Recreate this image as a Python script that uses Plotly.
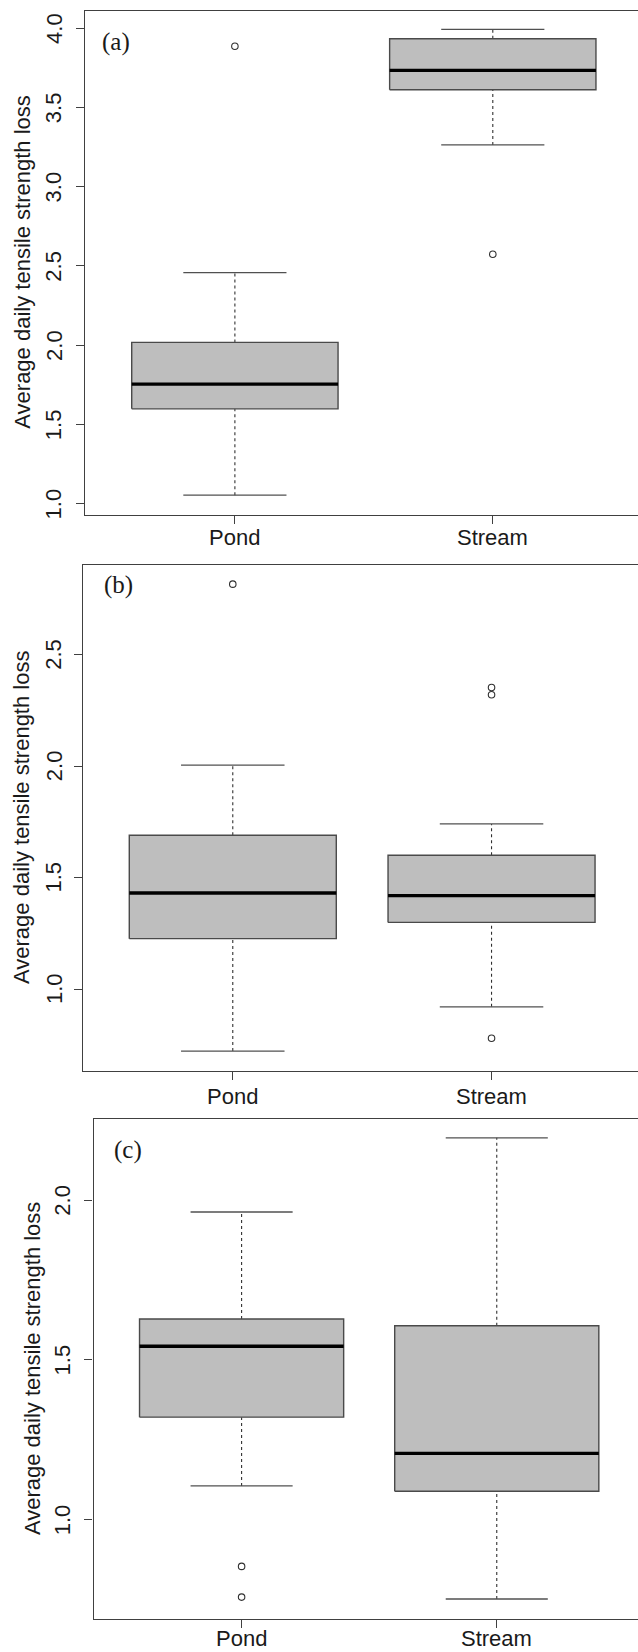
import plotly.graph_objects as go

# ---------------- data ----------------
CATEGORIES = ["Pond", "Stream"]
PANEL_LABELS = ["(a)", "(b)", "(c)"]
Y_TITLE = "Average daily tensile strength loss"

# panel (a)
A_LOWER = [1.053, 3.263]
A_Q1 = [1.598, 3.611]
A_MEDIAN = [1.754, 3.733]
A_Q3 = [2.017, 3.933]
A_UPPER = [2.457, 3.992]
A_OUTLIERS = [[3.886], [2.573]]
A_TICKS = [1.0, 1.5, 2.0, 2.5, 3.0, 3.5, 4.0]

# panel (b)
B_LOWER = [0.7215, 0.920]
B_Q1 = [1.226, 1.299]
B_MEDIAN = [1.431, 1.419]
B_Q3 = [1.690, 1.600]
B_UPPER = [2.005, 1.741]
B_OUTLIERS = [[2.817], [2.353, 2.321, 0.779]]
B_TICKS = [1.0, 1.5, 2.0, 2.5]

# panel (c)
C_LOWER = [1.106, 0.752]
C_Q1 = [1.321, 1.089]
C_MEDIAN = [1.543, 1.208]
C_Q3 = [1.628, 1.607]
C_UPPER = [1.963, 2.195]
C_OUTLIERS = [[0.854, 0.758], []]
C_TICKS = [1.0, 1.5, 2.0]

# ---------------- styling / layout constants ----------------
W, H = 638, 1652
BOX_HALF = 0.4      # R boxwex 0.8
CAP_HALF = 0.2      # R staplewex 0.5
FILL = "#bebebe"
BORDER = "#4a4a4a"
AXIS = "#404040"
TEXT = "#1a1a1a"
SANS = "Liberation Sans, Arial, sans-serif"
SERIF = "Liberation Serif, Times New Roman, serif"
FS = 22

# pixel geometry of each panel
PANELS = [
    dict(left=85.3, top=10.7, bottom=514.7, yr=[0.93, 4.11], xr=[0.42, 2.563],
         title_x=23, ytick_x=53.8, xtick_y=538, label=(116, 42)),
    dict(left=82.7, top=565.0, bottom=1071.0, yr=[0.632, 2.903], xr=[0.42, 2.566],
         title_x=21, ytick_x=54, xtick_y=1096, label=(118.5, 585)),
    dict(left=93.6, top=1118.7, bottom=1618.5, yr=[0.691, 2.255], xr=[0.42, 2.5535],
         title_x=32.5, ytick_x=62.5, xtick_y=1638.5, label=(128, 1150)),
]

DATA = [
    (A_LOWER, A_Q1, A_MEDIAN, A_Q3, A_UPPER, A_OUTLIERS, A_TICKS),
    (B_LOWER, B_Q1, B_MEDIAN, B_Q3, B_UPPER, B_OUTLIERS, B_TICKS),
    (C_LOWER, C_Q1, C_MEDIAN, C_Q3, C_UPPER, C_OUTLIERS, C_TICKS),
]

fig = go.Figure()
annotations = []

for p, (geom, (lo, q1, med, q3, hi, outs, ticks)) in enumerate(zip(PANELS, DATA)):
    sfx = "" if p == 0 else str(p + 1)
    xa, ya = "x" + sfx, "y" + sfx
    for i, cat in enumerate(CATEGORIES):
        c = i + 1
        # whiskers (dashed)
        fig.add_trace(go.Scatter(
            x=[c, c, None, c, c], y=[lo[i], q1[i], None, q3[i], hi[i]],
            mode="lines", line=dict(color="#303030", width=1.1, dash="3px,3px"),
            xaxis=xa, yaxis=ya, showlegend=False, hoverinfo="skip"))
        # staples
        fig.add_trace(go.Scatter(
            x=[c - CAP_HALF, c + CAP_HALF, None, c - CAP_HALF, c + CAP_HALF],
            y=[lo[i], lo[i], None, hi[i], hi[i]],
            mode="lines", line=dict(color="#505050", width=1.3),
            xaxis=xa, yaxis=ya, showlegend=False, hoverinfo="skip"))
        # box body
        fig.add_trace(go.Scatter(
            x=[c - BOX_HALF, c + BOX_HALF, c + BOX_HALF, c - BOX_HALF, c - BOX_HALF],
            y=[q1[i], q1[i], q3[i], q3[i], q1[i]],
            mode="lines", fill="toself", fillcolor=FILL,
            line=dict(color=BORDER, width=1.4),
            xaxis=xa, yaxis=ya, showlegend=False, name=cat))
        # median
        fig.add_trace(go.Scatter(
            x=[c - BOX_HALF, c + BOX_HALF], y=[med[i], med[i]],
            mode="lines", line=dict(color="#000000", width=3.3),
            xaxis=xa, yaxis=ya, showlegend=False, hoverinfo="skip"))
        # outliers
        if outs[i]:
            fig.add_trace(go.Scatter(
                x=[c] * len(outs[i]), y=outs[i], mode="markers",
                marker=dict(symbol="circle-open", size=6.5, color="#303030",
                            line=dict(width=1.1)),
                xaxis=xa, yaxis=ya, showlegend=False))

    ydom = [1 - geom["bottom"] / H, 1 - geom["top"] / H]
    xdom = [geom["left"] / W, 1.0]
    fig.layout["xaxis" + sfx] = dict(
        domain=xdom, range=geom["xr"], anchor=ya,
        tickmode="array", tickvals=[1, 2], showticklabels=False,
        ticks="outside", ticklen=8, tickwidth=1.1, tickcolor=AXIS,
        showline=True, linecolor=AXIS, linewidth=1.3, mirror=True,
        showgrid=False, zeroline=False)
    fig.layout["yaxis" + sfx] = dict(
        domain=ydom, range=geom["yr"], anchor=xa,
        tickmode="array", tickvals=ticks, showticklabels=False,
        ticks="outside", ticklen=8, tickwidth=1.1, tickcolor=AXIS,
        showline=True, linecolor=AXIS, linewidth=1.3, mirror=False,
        showgrid=False, zeroline=False)

    # tick labels (placed through the axes' own data coordinates)
    for t in ticks:
        annotations.append(dict(
            text=f"{t:.1f}", xref="paper", yref=ya, x=geom["ytick_x"] / W, y=t,
            xanchor="center", yanchor="middle", textangle=-90, showarrow=False,
            font=dict(family=SANS, size=FS, color=TEXT)))
    for i, cat in enumerate(CATEGORIES):
        annotations.append(dict(
            text=cat, xref=xa, yref="paper", x=i + 1, y=1 - geom["xtick_y"] / H,
            xanchor="center", yanchor="middle", showarrow=False,
            font=dict(family=SANS, size=FS, color=TEXT)))

    annotations.append(dict(
        text=Y_TITLE, xref="paper", yref="paper",
        x=geom["title_x"] / W, y=(ydom[0] + ydom[1]) / 2,
        xanchor="center", yanchor="middle", textangle=-90, showarrow=False,
        font=dict(family=SANS, size=FS, color=TEXT)))
    annotations.append(dict(
        text=PANEL_LABELS[p], xref="paper", yref="paper",
        x=geom["label"][0] / W, y=1 - geom["label"][1] / H,
        xanchor="center", yanchor="middle", showarrow=False,
        font=dict(family=SERIF, size=25, color=TEXT)))

fig.update_layout(
    width=W, height=H, margin=dict(l=0, r=0, t=0, b=0, pad=0),
    paper_bgcolor="white", plot_bgcolor="white",
    annotations=annotations, showlegend=False)

fig.write_html("out.html", config={"displayModeBar": False},
               post_script="document.body.style.margin='0';document.body.style.overflow='hidden';")
